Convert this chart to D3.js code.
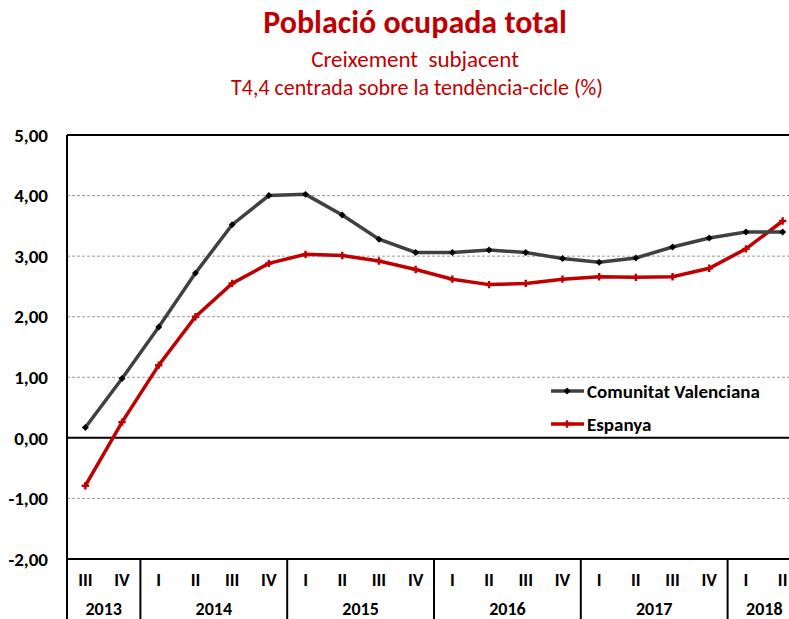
<!DOCTYPE html>
<html>
<head>
<meta charset="utf-8">
<script src="https://cdn.jsdelivr.net/npm/d3@7"></script>
<style>
  body { margin: 0; background: #fff; }
  text { font-family: Carlito, Lato, "Open Sans", sans-serif; }
</style>
</head>
<body>
<div id="chart"></div>
<script>
// quarters from 2013 III to 2018 II
var quarters = ["III","IV","I","II","III","IV","I","II","III","IV","I","II","III","IV","I","II","III","IV","I","II"]
var years = [
  {label: "2013", n: 2},
  {label: "2014", n: 4},
  {label: "2015", n: 4},
  {label: "2016", n: 4},
  {label: "2017", n: 4},
  {label: "2018", n: 2}
]
var valenciana = [0.17, 0.98, 1.83, 2.72, 3.52, 4.00, 4.02, 3.68, 3.28, 3.06, 3.06, 3.10, 3.06, 2.96, 2.90, 2.97, 3.15, 3.30, 3.40, 3.40]
var espanya = [-0.79, 0.26, 1.20, 2.00, 2.55, 2.88, 3.03, 3.01, 2.92, 2.78, 2.62, 2.53, 2.55, 2.62, 2.66, 2.65, 2.66, 2.80, 3.12, 3.58]
var yTicks = [-2, -1, 0, 1, 2, 3, 4, 5]

var red = "#c00000"
var W = 789, H = 619
var plotLeft = 67, plotTop = 135, plotBottom = 559
var step = 36.7

var svg = d3.select("#chart").append("svg")
    .attr("width", W)
    .attr("height", H)

// titles
svg.append("text")
    .attr("x", 415).attr("y", 33)
    .attr("text-anchor", "middle")
    .attr("fill", red)
    .style("font-size", "32px")
    .style("font-weight", "bold")
    .text("Població ocupada total")
svg.append("text")
    .attr("x", 415).attr("y", 67)
    .attr("text-anchor", "middle")
    .attr("fill", red)
    .style("font-size", "23px")
    .style("white-space", "pre")
    .text("Creixement  subjacent")
svg.append("text")
    .attr("x", 417).attr("y", 95)
    .attr("text-anchor", "middle")
    .attr("fill", red)
    .style("font-size", "22px")
    .text("T4,4 centrada sobre la tendència-cicle (%)")

var x = d3.scaleBand()
    .domain(d3.range(quarters.length))
    .range([plotLeft, plotLeft + step * quarters.length])
var y = d3.scaleLinear()
    .domain([-2, 5])
    .range([plotBottom, plotTop])

var cx = function(i) { return x(i) + x.bandwidth() / 2 }

// gridlines
svg.selectAll(".grid")
    .data(yTicks.filter(function(d) { return d != 0 && d != -2 && d != 5 }))
  .enter().append("line")
    .attr("x1", plotLeft).attr("x2", W)
    .attr("y1", function(d) { return y(d) }).attr("y2", function(d) { return y(d) })
    .attr("stroke", "#999")
    .attr("stroke-width", 1)
    .attr("stroke-dasharray", "3,2")

// frame lines: top, zero, bottom
;[5, 0, -2].forEach(function(v) {
  svg.append("line")
      .attr("x1", plotLeft).attr("x2", W)
      .attr("y1", y(v)).attr("y2", y(v))
      .attr("stroke", "#000")
      .attr("stroke-width", 2)
})
svg.append("line")
    .attr("x1", plotLeft).attr("x2", plotLeft)
    .attr("y1", plotTop).attr("y2", H)
    .attr("stroke", "#000")
    .attr("stroke-width", 2)

// y labels
svg.selectAll(".ylab")
    .data(yTicks)
  .enter().append("text")
    .attr("x", 48)
    .attr("y", function(d) { return y(d) })
    .attr("dy", "0.35em")
    .attr("text-anchor", "end")
    .style("font-size", "19px")
    .style("font-weight", "bold")
    .text(function(d) { return d3.format(".2f")(d).replace(".", ",").replace("−", "-") })

// quarter labels
svg.selectAll(".qlab")
    .data(quarters)
  .enter().append("text")
    .attr("x", function(d, i) { return cx(i) })
    .attr("y", 580)
    .attr("dy", "0.35em")
    .attr("text-anchor", "middle")
    .style("font-size", "18px")
    .style("font-weight", "bold")
    .text(function(d) { return d })

// year labels and separators
var start = 0
years.forEach(function(yr) {
  var x0 = x(start), x1 = x0 + step * yr.n
  svg.append("text")
      .attr("x", (x0 + x1) / 2)
      .attr("y", 609)
      .attr("dy", "0.35em")
      .attr("text-anchor", "middle")
      .style("font-size", "18px")
      .style("font-weight", "bold")
      .text(yr.label)
  start += yr.n
  if (start < quarters.length) {
    svg.append("line")
        .attr("x1", x1).attr("x2", x1)
        .attr("y1", plotBottom).attr("y2", H)
        .attr("stroke", "#000")
        .attr("stroke-width", 2)
  }
})

var line = d3.line()
    .x(function(d, i) { return cx(i) })
    .y(function(d) { return y(d) })

var diamond = d3.symbol().type(d3.symbolSquare).size(24)
var plus = d3.symbol().type(d3.symbolCross).size(30)

// Espanya
svg.append("path")
    .datum(espanya)
    .attr("d", line)
    .attr("fill", "none")
    .attr("stroke", red)
    .attr("stroke-width", 3.5)
svg.selectAll(".pes")
    .data(espanya)
  .enter().append("path")
    .attr("d", plus)
    .attr("transform", function(d, i) { return "translate(" + cx(i) + "," + y(d) + ")" })
    .attr("fill", red)

// Comunitat Valenciana
svg.append("path")
    .datum(valenciana)
    .attr("d", line)
    .attr("fill", "none")
    .attr("stroke", "#404040")
    .attr("stroke-width", 3.5)
svg.selectAll(".pcv")
    .data(valenciana)
  .enter().append("path")
    .attr("d", diamond)
    .attr("transform", function(d, i) { return "translate(" + cx(i) + "," + y(d) + ") rotate(45)" })
    .attr("fill", "#000")

// legend
var legend = [
  {name: "Comunitat Valenciana", color: "#404040", mark: "#000", sym: diamond, rot: 45, y: 391},
  {name: "Espanya", color: red, mark: red, sym: plus, rot: 0, y: 424}
]
legend.forEach(function(l) {
  svg.append("line")
      .attr("x1", 551).attr("x2", 584)
      .attr("y1", l.y).attr("y2", l.y)
      .attr("stroke", l.color)
      .attr("stroke-width", 3.5)
  svg.append("path")
      .attr("d", l.sym)
      .attr("transform", "translate(567," + l.y + ") rotate(" + l.rot + ")")
      .attr("fill", l.mark)
  svg.append("text")
      .attr("x", 587)
      .attr("y", l.y)
      .attr("dy", "0.35em")
      .style("font-size", "19px")
      .style("font-weight", "bold")
      .text(l.name)
})
</script>
</body>
</html>
